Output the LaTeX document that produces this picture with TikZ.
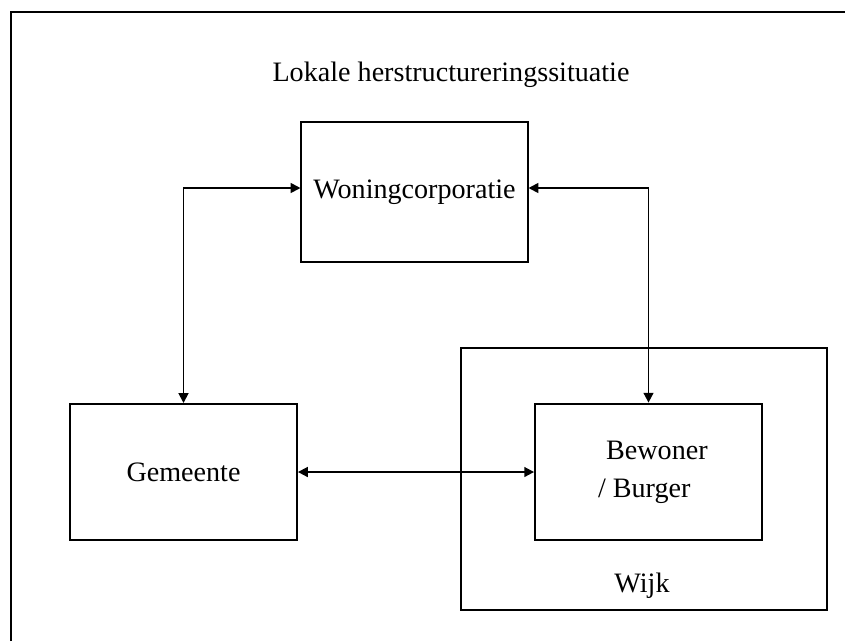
\documentclass[tikz,border=0pt]{standalone}
\usepackage{fontspec}
\setmainfont{Liberation Serif}
\usepackage{tikz}
\usetikzlibrary{positioning,arrows.meta}

\begin{document}
\begin{tikzpicture}[x=0.025cm, y=-0.025cm,
  every node/.style={font=\fontsize{20}{27}\selectfont},
  box/.style={draw, rectangle, line width=1.4pt},
  link/.style={{Triangle[length=7pt,width=7pt]}-{Triangle[length=7pt,width=7pt]}, line width=1.3pt}]

\useasboundingbox (0,0) rectangle (845,641);

% Frame
\draw[line width=1.8pt] (11,641) -- (11,12) -- (845,12);

% Title
\node (title) at (451,75) {Lokale herstructureringssituatie};

% Woningcorporatie
\node[box, minimum width=5.65cm, minimum height=3.5cm] (woning) at (414.5,192) {Woningcorporatie};

% Gemeente
\node[box, minimum width=5.67cm, minimum height=3.4cm] (gemeente) at (183.5,472) {Gemeente};

% Wijk
\node[box, minimum width=9.15cm, minimum height=6.55cm] (wijk) at (644,479) {};
\node (wijklabel) at (642,586) {Wijk};

% Bewoner / Burger
\node[box, fill=white, minimum width=5.67cm, minimum height=3.42cm, align=center] (bewoner) at (648.5,472) {\hspace*{0.6em}Bewoner\\/ Burger\hspace*{0.3em}};

% Arrows
\draw[link] ([yshift=0.1cm]woning.west) -| (gemeente.north);
\draw[link] ([yshift=0.1cm]woning.east) -| (bewoner.north);
\draw[link] (gemeente.east) -- (bewoner.west);

\end{tikzpicture}
\end{document}
